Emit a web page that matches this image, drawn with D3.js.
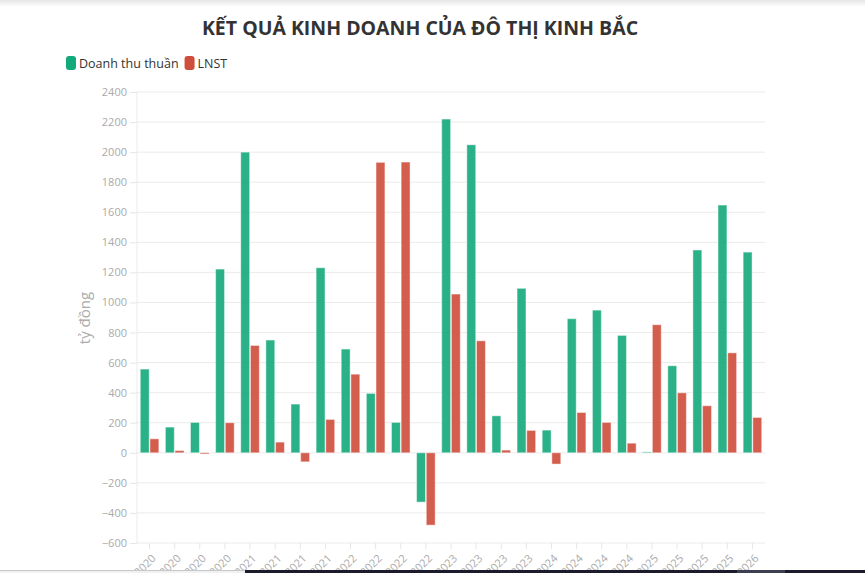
<!DOCTYPE html>
<html>
<head>
  <meta charset="utf-8">
  <script src="https://d3js.org/d3.v7.min.js"></script>
  <style>
    body { margin: 0; background: #fff; font-family: "Open Sans", sans-serif; }
    svg { display: block; }
  </style>
</head>
<body>
<script>
  // quarters shown on the x axis
  var quarters = [
    "Q1/2020", "Q2/2020", "Q3/2020", "Q4/2020",
    "Q1/2021", "Q2/2021", "Q3/2021", "Q4/2021",
    "Q1/2022", "Q2/2022", "Q3/2022", "Q4/2022",
    "Q1/2023", "Q2/2023", "Q3/2023", "Q4/2023",
    "Q1/2024", "Q2/2024", "Q3/2024", "Q4/2024",
    "Q1/2025", "Q2/2025", "Q3/2025", "Q4/2025",
    "Q1/2026"
  ];
  // Doanh thu thuan (ty dong)
  var revenue = [557, 171, 202, 1222, 2000, 750, 324, 1231,
                 690, 395, 202, -328, 2220, 2049, 246, 1094,
                 151, 892, 949, 781, 6, 579, 1349, 1648, 1335];
  // LNST (ty dong)
  var profit = [93, 15, -8, 200, 714, 71, -60, 222,
                523, 1932, 1934, -481, 1056, 745, 18, 149,
                -75, 268, 202, 64, 852, 399, 313, 665, 235];
  var yTicks = [-600, -400, -200, 0, 200, 400, 600, 800, 1000, 1200,
                1400, 1600, 1800, 2000, 2200, 2400];
  var seriesNames = ["Doanh thu thuần", "LNST"];
  var seriesColors = ["#13a97b", "#cf4d3b"];

  (function draw() {
    "use strict";
    var W = 865, H = 573;
    var plotLeft = 137, plotRight = 765, plotTop = 92, plotBottom = 543;

    var svg = d3.select("body").append("svg")
        .attr("width", W)
        .attr("height", H);

    // faint shadow at the very top of the page
    var grad = svg.append("defs").append("linearGradient")
        .attr("id", "topShade").attr("x1", 0).attr("x2", 0).attr("y1", 0).attr("y2", 1);
    grad.append("stop").attr("offset", "0%").attr("stop-color", "#e6e6e6");
    grad.append("stop").attr("offset", "100%").attr("stop-color", "#ffffff");
    svg.append("rect").attr("x", 0).attr("y", 0).attr("width", W).attr("height", 7)
        .attr("fill", "url(#topShade)");

    svg.append("text")
        .attr("x", 420)
        .attr("y", 35)
        .attr("text-anchor", "middle")
        .style("font-size", "19.5px")
        .style("font-weight", "bold")
        .style("fill", "#333")
        .text("KẾT QUẢ KINH DOANH CỦA ĐÔ THỊ KINH BẮC");

    // legend
    var legend = svg.append("g").attr("class", "legend");
    var lx = 66;
    seriesNames.forEach(function(name, i) {
      legend.append("rect")
          .attr("x", lx).attr("y", 56)
          .attr("width", 10).attr("height", 14)
          .attr("rx", 3)
          .attr("fill", seriesColors[i]);
      var t = legend.append("text")
          .attr("x", lx + 13).attr("y", 68)
          .style("font-size", "12.5px")
          .style("fill", "#333")
          .text(name);
      lx += 13 + t.node().getComputedTextLength() + 6;
    });

    var x = d3.scaleBand()
        .domain(quarters)
        .range([plotLeft, plotRight])
        .paddingInner(0.26)
        .paddingOuter(0.13);

    var xs = d3.scaleBand()
        .domain([0, 1])
        .range([0, x.bandwidth()])
        .paddingInner(0.08);

    var y = d3.scaleLinear()
        .domain([-600, 2400])
        .range([plotBottom, plotTop]);

    // gridlines
    svg.append("g").selectAll("line")
        .data(yTicks)
        .enter().append("line")
        .attr("x1", plotLeft).attr("x2", plotRight)
        .attr("y1", function(d) { return y(d); })
        .attr("y2", function(d) { return y(d); })
        .attr("stroke", "#ebebeb")
        .attr("stroke-width", 1);

    svg.append("line")
        .attr("x1", plotLeft).attr("x2", plotLeft)
        .attr("y1", plotTop).attr("y2", plotBottom)
        .attr("stroke", "#ebebeb");

    // y axis
    var yAxis = d3.axisLeft(y)
        .tickValues(yTicks)
        .tickFormat(d3.format("d"))
        .tickSize(7)
        .tickPadding(3);
    var gy = svg.append("g")
        .attr("transform", "translate(" + plotLeft + ",0)")
        .call(yAxis);
    gy.select(".domain").remove();
    gy.selectAll(".tick line").attr("stroke", "#e6e6e6");
    gy.selectAll(".tick text")
        .style("font-family", "'Open Sans', sans-serif")
        .style("font-size", "11px")
        .style("fill", "#aaa");

    svg.append("text")
        .attr("transform", "translate(90,318) rotate(-90)")
        .attr("text-anchor", "middle")
        .style("font-size", "15px")
        .style("fill", "#aaa")
        .text("tỷ đồng");

    // x axis
    var xAxis = d3.axisBottom(x).tickSize(6).tickSizeOuter(0);
    var gx = svg.append("g")
        .attr("transform", "translate(0," + plotBottom + ")")
        .call(xAxis);
    gx.select(".domain").remove();
    gx.selectAll(".tick line").attr("stroke", "#e6e6e6");
    gx.selectAll(".tick text")
        .style("font-family", "'Open Sans', sans-serif")
        .style("font-size", "11px")
        .style("fill", "#aaa")
        .attr("text-anchor", "end")
        .attr("dy", null)
        .attr("y", 0)
        .attr("transform", "translate(7,16) rotate(-45)");

    // bars
    var rows = quarters.map(function(q, i) {
      return { q: q, values: [revenue[i], profit[i]] };
    });

    var groups = svg.append("g").selectAll("g")
        .data(rows)
        .enter().append("g")
        .attr("transform", function(d) { return "translate(" + x(d.q) + ",0)"; });

    groups.selectAll("rect")
        .data(function(d) { return d.values.map(function(v, k) { return { k: k, v: v }; }); })
        .enter().append("rect")
        .attr("x", function(d) { return xs(d.k); })
        .attr("width", xs.bandwidth())
        .attr("y", function(d) { return y(Math.max(0, d.v)); })
        .attr("height", function(d) { return Math.abs(y(d.v) - y(0)); })
        .attr("fill", function(d) { return seriesColors[d.k]; })
        .attr("fill-opacity", 0.9)
        .attr("stroke", "#fff")
        .attr("stroke-opacity", 0.45)
        .attr("stroke-width", 1);

    // strip at the bottom edge of the screenshot
    svg.append("rect").attr("x", 0).attr("y", 570).attr("width", 245).attr("height", 3).attr("fill", "#f1f1f1");
    svg.append("line").attr("x1", 0).attr("x2", 245).attr("y1", 570.5).attr("y2", 570.5).attr("stroke", "#c8c8c8");
    svg.append("rect").attr("x", 245).attr("y", 570).attr("width", 620).attr("height", 3).attr("fill", "#1b1b2b");
    svg.append("rect").attr("x", 737).attr("y", 570).attr("width", 48).attr("height", 3).attr("fill", "#3c3f4d");
  })();
</script>
</body>
</html>
